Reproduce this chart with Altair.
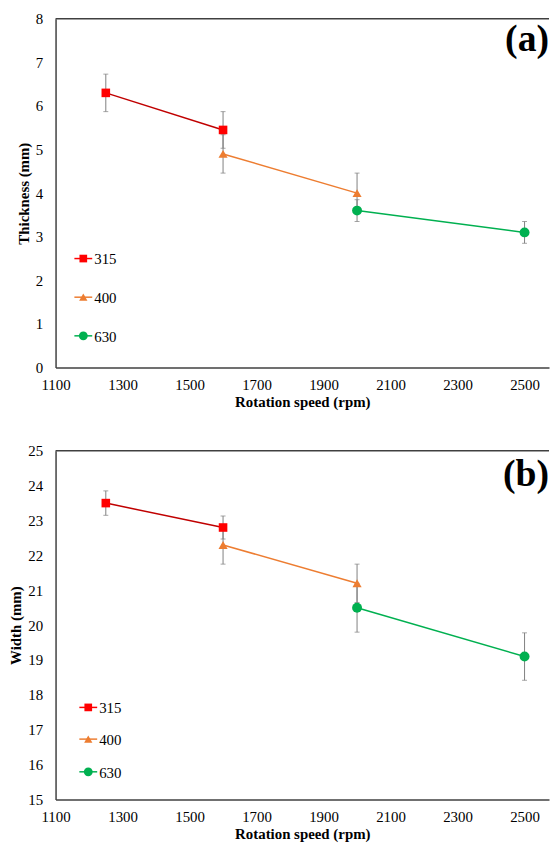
import altair as alt
import pandas as pd

# ---------------- data ----------------
series = ["315", "315", "400", "400", "630", "630"]
speed = [1250, 1600, 1600, 2000, 2000, 2500]
thickness = [6.30, 5.45, 4.90, 4.00, 3.60, 3.10]
thickness_err = [0.43, 0.42, 0.44, 0.46, 0.25, 0.25]
width_mm = [23.50, 22.80, 22.30, 21.20, 20.50, 19.10]
width_err = [0.35, 0.33, 0.55, 0.55, 0.70, 0.68]

series_names = ["315", "400", "630"]
marker_colors = ["#FF0000", "#ED7D31", "#00B050"]
line_colors = ["#C00000", "#ED7D31", "#00B050"]
marker_shapes = ["square", "triangle-up", "circle"]
marker_sizes = [75, 85, 100]
legend_sizes = [60, 70, 80]
x_ticks = [1100, 1300, 1500, 1700, 1900, 2100, 2300, 2500]
thick_ticks = [0, 1, 2, 3, 4, 5, 6, 7, 8]
width_ticks = [15, 16, 17, 18, 19, 20, 21, 22, 23, 24, 25]
panel_labels = ["(a)", "(b)"]

FONT = "Liberation Serif"
W, H = 498, 352
XMAX = 2573


def panel(values, errs, ytitle, ydom, yticks, label, label_y, leg_x, leg_ys):
    df = pd.DataFrame({"series": series, "speed": speed, "value": values, "err": errs})
    df["lo"] = df["value"] - df["err"]
    df["hi"] = df["value"] + df["err"]
    base = alt.Chart(df)
    xs = alt.Scale(domain=[1100, XMAX], nice=False, zero=False, padding=0)
    ys = alt.Scale(domain=ydom, nice=False, zero=False, padding=0)
    xa = alt.Axis(values=x_ticks, format="d", title="Rotation speed (rpm)",
                  labelFont=FONT, titleFont=FONT, labelFontSize=15, titleFontSize=15,
                  labelOverlap=False, labelFlush=False, labelPadding=10, titlePadding=2)
    ya = alt.Axis(values=yticks, format="d", title=ytitle,
                  labelFont=FONT, titleFont=FONT, labelFontSize=15, titleFontSize=15,
                  labelOverlap=False, labelFlush=False, labelPadding=13, titlePadding=4)
    X = alt.X("speed:Q", scale=xs, axis=xa)

    def Y(field):
        return alt.Y(field + ":Q", scale=ys, axis=ya)

    err_rule = base.mark_rule(color="#808080", strokeWidth=1).encode(
        x=X, y=Y("lo"), y2="hi:Q")
    cap_lo = base.mark_tick(color="#808080", orient="horizontal", size=5, thickness=1).encode(
        x=X, y=Y("lo"))
    cap_hi = base.mark_tick(color="#808080", orient="horizontal", size=5, thickness=1).encode(
        x=X, y=Y("hi"))
    lines = base.mark_line(strokeWidth=1.5).encode(
        x=X, y=Y("value"),
        stroke=alt.Stroke("series:N", scale=alt.Scale(domain=series_names, range=line_colors),
                          legend=None))
    layers = [err_rule, cap_lo, cap_hi, lines]
    for name, col, shp, sz in zip(series_names, marker_colors, marker_shapes, marker_sizes):
        layers.append(base.transform_filter(alt.datum.series == name).mark_point(
            shape=shp, filled=True, size=sz, opacity=1).encode(
            x=X, y=Y("value"), color=alt.value(col)))
    # hand-built legend: short line through the marker, label to the right
    for name, lcol, mcol, shp, sz, ly in zip(series_names, line_colors, marker_colors,
                                            marker_shapes, legend_sizes, leg_ys):
        ldf = alt.Chart(pd.DataFrame({"series": [name]}))
        layers.append(ldf.mark_rule(color=mcol, strokeWidth=1.5).encode(
            x=alt.value(leg_x - 9), x2=alt.value(leg_x + 9), y=alt.value(ly)))
        layers.append(ldf.mark_point(shape=shp, filled=True, size=sz, opacity=1, color=mcol).encode(
            x=alt.value(leg_x), y=alt.value(ly)))
        layers.append(ldf.mark_text(font=FONT, fontSize=15, align="left", baseline="middle",
                                    color="black").encode(
            text="series:N", x=alt.value(leg_x + 11), y=alt.value(ly + 1)))
    txt = alt.Chart(pd.DataFrame({"label": [label]})).mark_text(
        font=FONT, fontSize=38, fontWeight="bold", align="right", baseline="middle",
        color="black").encode(text="label:N", x=alt.value(W), y=alt.value(label_y))
    border = alt.Chart(pd.DataFrame({"k": [0]})).mark_rule(color="#404040", strokeWidth=1.5).encode(
        x=alt.value(0), x2=alt.value(W), y=alt.value(0))
    layers += [txt, border]
    return alt.layer(*layers).properties(width=W, height=H)


top = panel(thickness, thickness_err, "Thickness (mm)", [0, 8], thick_ticks, panel_labels[0],
            22, 28, [242, 281, 320])
bottom = panel(width_mm, width_err, "Width (mm)", [15, 25], width_ticks, panel_labels[1],
               25, 33, [259, 291, 324])

chart = alt.vconcat(top, bottom, spacing=35).resolve_scale(
    x="independent", y="independent", stroke="independent").configure_view(
    stroke=None).configure_axis(
    labelFont=FONT, labelFontSize=15, labelColor="black", titleFont=FONT, titleFontSize=15,
    titleFontWeight="bold", titleColor="black", ticks=False, grid=False,
    domainColor="#404040", domainWidth=1.5).properties(
    padding={"left": 1, "top": 0, "right": 0, "bottom": 0})

chart.save("out.html", embed_options={"renderer": "svg", "actions": False})
